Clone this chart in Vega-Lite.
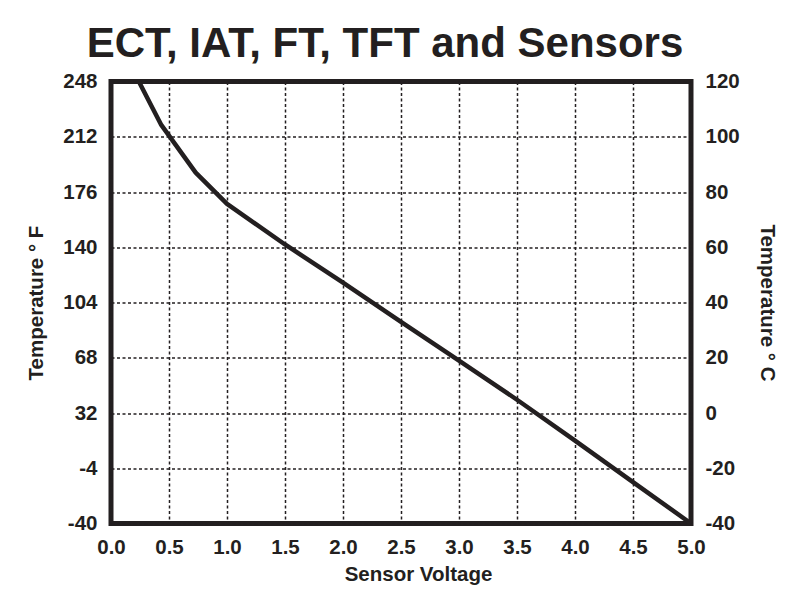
{
  "$schema": "https://vega.github.io/schema/vega-lite/v6.json",
  "width": 580,
  "height": 442,
  "autosize": {"type": "none"},
  "padding": {"left": 111, "top": 81.5, "right": 107, "bottom": 68.5},
  "background": "white",
  "title": {
    "text": "ECT, IAT, FT, TFT and Sensors",
    "font": "Liberation Sans",
    "fontSize": 42,
    "fontWeight": "bold",
    "color": "#231f20",
    "anchor": "middle",
    "dx": -16,
    "dy": 3,
    "offset": 9
  },
  "data": {
    "values": [
      {"v": 0.24, "c": 120, "f": 248},
      {"v": 0.43, "c": 104.5, "f": 220.1},
      {"v": 0.73, "c": 87, "f": 188.6},
      {"v": 1.0, "c": 75.7, "f": 168.3},
      {"v": 1.5, "c": 61, "f": 141.8},
      {"v": 2.0, "c": 47.2, "f": 117},
      {"v": 2.5, "c": 33, "f": 91.4},
      {"v": 3.0, "c": 19, "f": 66.2},
      {"v": 3.5, "c": 4.8, "f": 40.6},
      {"v": 4.0, "c": -10, "f": 14},
      {"v": 4.5, "c": -25, "f": -13},
      {"v": 5.0, "c": -40, "f": -40}
    ]
  },
  "layer": [
    {
      "mark": {"type": "line", "opacity": 0},
      "encoding": {
        "x": {
          "field": "v",
          "type": "quantitative",
          "scale": {"domain": [0, 5], "nice": false, "zero": false},
          "axis": {
            "values": [0, 0.5, 1, 1.5, 2, 2.5, 3, 3.5, 4, 4.5, 5],
            "format": ".1f",
            "title": "Sensor Voltage",
            "grid": true,
            "labelPadding": 14,
            "labelDx": 4,
            "titleX": 307,
            "titleY": 57,
            "titleBaseline": "alphabetic",
            "titleAlign": "center"
          }
        },
        "y": {
          "field": "f",
          "type": "quantitative",
          "scale": {"domain": [-40, 248], "nice": false, "zero": false},
          "axis": {
            "orient": "left",
            "values": [-40, -4, 32, 68, 104, 140, 176, 212, 248],
            "labelExpr": "replace(datum.label, '\u2212', '-')",
            "title": "Temperature ° F",
            "grid": true,
            "labelPadding": 14,
            "titleX": -69,
            "titleY": 221,
            "titleAngle": -90,
            "titleBaseline": "alphabetic",
            "titleAlign": "center"
          }
        }
      }
    },
    {
      "mark": {"type": "line", "color": "#231f20", "strokeWidth": 4.5, "strokeJoin": "round"},
      "encoding": {
        "x": {
          "field": "v",
          "type": "quantitative",
          "scale": {"domain": [0, 5], "nice": false, "zero": false}
        },
        "y": {
          "field": "c",
          "type": "quantitative",
          "scale": {"domain": [-40, 120], "nice": false, "zero": false},
          "axis": {
            "orient": "right",
            "values": [-40, -20, 0, 20, 40, 60, 80, 100, 120],
            "labelExpr": "replace(datum.label, '\u2212', '-')",
            "title": "Temperature ° C",
            "grid": false,
            "labelPadding": 14,
            "titleX": 69,
            "titleY": 221,
            "titleAngle": 90,
            "titleBaseline": "alphabetic",
            "titleAlign": "center"
          }
        }
      }
    }
  ],
  "resolve": {"scale": {"y": "independent"}, "axis": {"y": "independent"}},
  "config": {
    "view": {"stroke": "#231f20", "strokeWidth": 5},
    "axis": {
      "domain": false,
      "ticks": false,
      "labelFont": "Liberation Sans",
      "labelFontSize": 20.5,
      "labelFontWeight": "bold",
      "labelColor": "#231f20",
      "labelFlush": false,
      "labelOverlap": false,
      "titleFont": "Liberation Sans",
      "titleFontSize": 20.5,
      "titleFontWeight": "bold",
      "titleColor": "#231f20",
      "gridColor": "#231f20",
      "gridOpacity": 1,
      "gridWidth": 1.5,
      "gridDash": [3, 2.5]
    }
  }
}
